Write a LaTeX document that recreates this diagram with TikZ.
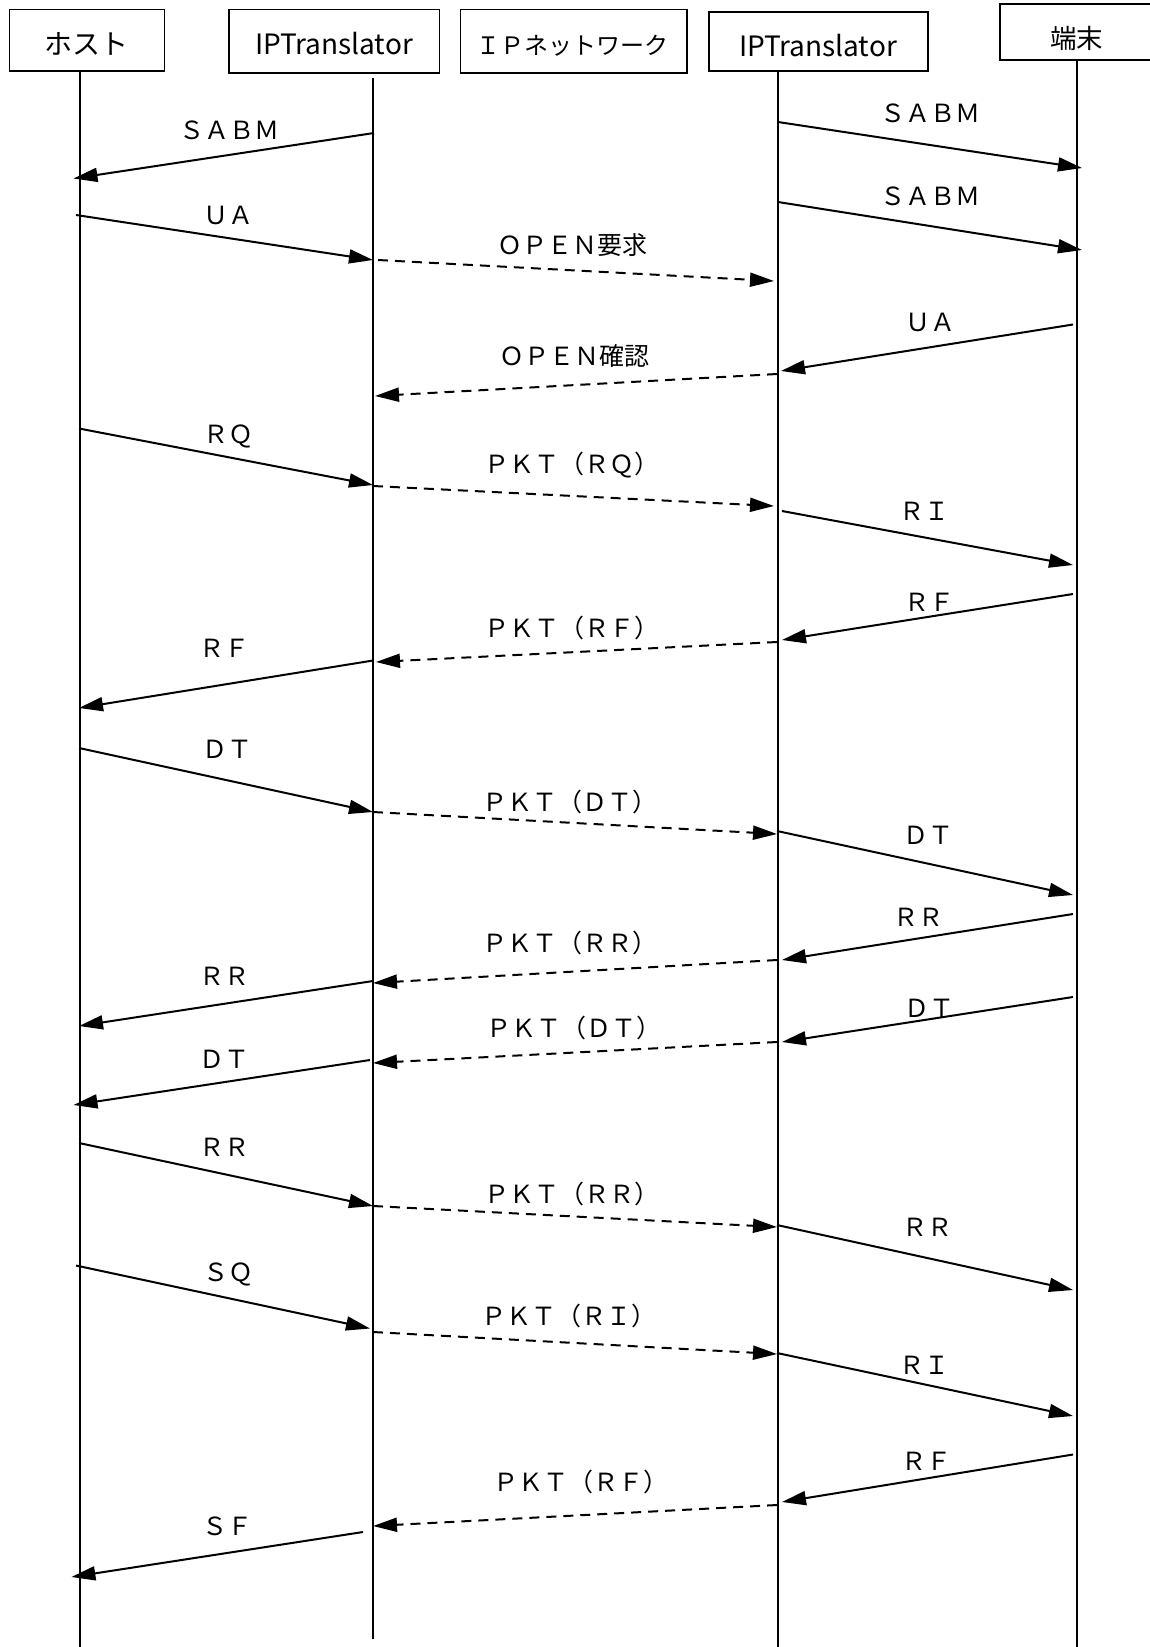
\documentclass[tikz,border=0pt]{standalone}
\usepackage{fontspec}
\setmainfont{Noto Sans CJK JP}
\usetikzlibrary{arrows.meta}
\tikzset{
  box/.style={draw, line width=1.5pt, inner sep=0pt},
  hdr/.style={inner sep=0pt, font=\fontsize{28}{32}\selectfont, text height=20.5pt, text depth=0pt},
  lbl/.style={inner sep=0pt, font=\fontsize{25}{30}\selectfont, text height=18.5pt, text depth=0pt},
  life/.style={line width=1.3pt},
  msg/.style={line width=2pt, -{Triangle[length=24pt,width=14pt]}},
  dmsg/.style={msg, dash pattern=on 10pt off 7pt},
}
\begin{document}
\begin{tikzpicture}[x=1pt,y=-1pt]
\clip (0,0) rectangle (1150,1647);
\fill[white] (0,0) rectangle (1150,1647);
% header boxes
\node[box, minimum width=155pt, minimum height=61.5pt] (hostbox) at (87,40.25) {};
\node[hdr] (hostt) at (86.5,44) {ホスト};
\node[box, minimum width=210.5pt, minimum height=63.5pt] (ipt1box) at (334.25,41.25) {};
\node[hdr] (ipt1t) at (334,44.5) {IPTranslator};
\node[box, minimum width=226.5pt, minimum height=63.5pt] (netbox) at (573.75,41.25) {};
\node[hdr, font=\fontsize{24}{28}\selectfont, text height=17.5pt] (nett) at (572.5,45.5) {ＩＰネットワーク};
\node[box, minimum width=219pt, minimum height=59pt] (ipt2box) at (818.5,41.5) {};
\node[hdr] (ipt2t) at (818,46.5) {IPTranslator};
\node[box, minimum width=154pt, minimum height=56pt] (termbox) at (1077,32) {};
\node[hdr, font=\fontsize{26.5}{30}\selectfont] (termt) at (1076.5,38.5) {端末};
% lifelines
\coordinate (hTop) at (80,71); \coordinate (hBot) at (80,1647);
\coordinate (aTop) at (373,78); \coordinate (aBot) at (373,1639);
\coordinate (bTop) at (778,71); \coordinate (bBot) at (778,1647);
\coordinate (tTop) at (1077,60); \coordinate (tBot) at (1077,1647);
\draw[life] (hTop) -- (hBot);
\draw[life] (aTop) -- (aBot);
\draw[life] (bTop) -- (bBot);
\draw[life] (tTop) -- (tBot);
% messages
\coordinate (m1a) at (374,133); \coordinate (m1b) at (73.5,178.5); \draw[msg] (m1a) -- (m1b); \node[lbl] (l1) at (229,130) {ＳＡＢＭ};
\coordinate (m2a) at (778,122); \coordinate (m2b) at (1082,168); \draw[msg] (m2a) -- (m2b); \node[lbl] (l2) at (930,113) {ＳＡＢＭ};
\coordinate (m3a) at (778,202); \coordinate (m3b) at (1082,250); \draw[msg] (m3a) -- (m3b); \node[lbl] (l3) at (930,196) {ＳＡＢＭ};
\coordinate (m4a) at (76,215); \coordinate (m4b) at (373,260); \draw[msg] (m4a) -- (m4b); \node[lbl] (l4) at (228,215) {ＵＡ};
\coordinate (m5a) at (378,260); \coordinate (m5b) at (774,281); \draw[dmsg] (m5a) -- (m5b); \node[lbl] (l5) at (572,245) {ＯＰＥＮ要求};
\coordinate (m6a) at (1073,324.5); \coordinate (m6b) at (781,371); \draw[msg] (m6a) -- (m6b); \node[lbl] (l6) at (930,322) {ＵＡ};
\coordinate (m7a) at (777,374); \coordinate (m7b) at (375,396); \draw[dmsg] (m7a) -- (m7b); \node[lbl] (l7) at (574,356) {ＯＰＥＮ確認};
\coordinate (m8a) at (79,428.5); \coordinate (m8b) at (373,485); \draw[msg] (m8a) -- (m8b); \node[lbl] (l8) at (228,434) {ＲＱ};
\coordinate (m9a) at (373,486); \coordinate (m9b) at (774,506); \draw[dmsg] (m9a) -- (m9b); \node[lbl] (l9) at (572,464) {ＰＫＴ（ＲＱ）};
\coordinate (m10a) at (782,511); \coordinate (m10b) at (1073,565); \draw[msg] (m10a) -- (m10b); \node[lbl] (l10) at (924,511) {ＲＩ};
\coordinate (m11a) at (1073,594); \coordinate (m11b) at (782,640); \draw[msg] (m11a) -- (m11b); \node[lbl] (l11) at (929,602) {ＲＦ};
\coordinate (m12a) at (777,642); \coordinate (m12b) at (376,662); \draw[dmsg] (m12a) -- (m12b); \node[lbl] (l12) at (572,628) {ＰＫＴ（ＲＦ）};
\coordinate (m13a) at (373,660.5); \coordinate (m13b) at (79,708); \draw[msg] (m13a) -- (m13b); \node[lbl] (l13) at (224,648) {ＲＦ};
\coordinate (m14a) at (79,748); \coordinate (m14b) at (373,812); \draw[msg] (m14a) -- (m14b); \node[lbl] (l14) at (227,749) {ＤＴ};
\coordinate (m15a) at (373,812); \coordinate (m15b) at (777,834); \draw[dmsg] (m15a) -- (m15b); \node[lbl] (l15) at (570,802) {ＰＫＴ（ＤＴ）};
\coordinate (m16a) at (777,831); \coordinate (m16b) at (1073,895); \draw[msg] (m16a) -- (m16b); \node[lbl] (l16) at (928,835) {ＤＴ};
\coordinate (m17a) at (1073,914); \coordinate (m17b) at (782,960); \draw[msg] (m17a) -- (m17b); \node[lbl] (l17) at (918,917) {ＲＲ};
\coordinate (m18a) at (777,960); \coordinate (m18b) at (373,983); \draw[dmsg] (m18a) -- (m18b); \node[lbl] (l18) at (570,943) {ＰＫＴ（ＲＲ）};
\coordinate (m19a) at (373,981); \coordinate (m19b) at (79,1026); \draw[msg] (m19a) -- (m19b); \node[lbl] (l19) at (224,976) {ＲＲ};
\coordinate (m20a) at (1073,997); \coordinate (m20b) at (782,1042); \draw[msg] (m20a) -- (m20b); \node[lbl] (l20) at (929,1008) {ＤＴ};
\coordinate (m21a) at (777,1042); \coordinate (m21b) at (373,1063); \draw[dmsg] (m21a) -- (m21b); \node[lbl] (l21) at (574,1028) {ＰＫＴ（ＤＴ）};
\coordinate (m22a) at (370,1060); \coordinate (m22b) at (73.5,1105); \draw[msg] (m22a) -- (m22b); \node[lbl] (l22) at (224,1059) {ＤＴ};
\coordinate (m23a) at (79,1143); \coordinate (m23b) at (373,1206); \draw[msg] (m23a) -- (m23b); \node[lbl] (l23) at (224,1147) {ＲＲ};
\coordinate (m24a) at (373,1206); \coordinate (m24b) at (777,1227); \draw[dmsg] (m24a) -- (m24b); \node[lbl] (l24) at (572,1194) {ＰＫＴ（ＲＲ）};
\coordinate (m25a) at (777,1225); \coordinate (m25b) at (1073,1290); \draw[msg] (m25a) -- (m25b); \node[lbl] (l25) at (927,1227) {ＲＲ};
\coordinate (m26a) at (76,1265.5); \coordinate (m26b) at (370,1328.5); \draw[msg] (m26a) -- (m26b); \node[lbl] (l26) at (228,1272) {ＳＱ};
\coordinate (m27a) at (373,1332); \coordinate (m27b) at (777,1354); \draw[dmsg] (m27a) -- (m27b); \node[lbl] (l27) at (569,1316) {ＰＫＴ（ＲＩ）};
\coordinate (m28a) at (777,1353); \coordinate (m28b) at (1073,1416); \draw[msg] (m28a) -- (m28b); \node[lbl] (l28) at (924,1365) {ＲＩ};
\coordinate (m29a) at (1073,1454.5); \coordinate (m29b) at (782,1502); \draw[msg] (m29a) -- (m29b); \node[lbl] (l29) at (926,1461) {ＲＦ};
\coordinate (m30a) at (777,1505); \coordinate (m30b) at (373,1526); \draw[dmsg] (m30a) -- (m30b); \node[lbl] (l30) at (581,1482) {ＰＫＴ（ＲＦ）};
\coordinate (m31a) at (363,1532); \coordinate (m31b) at (71.4,1577); \draw[msg] (m31a) -- (m31b); \node[lbl] (l31) at (227,1526) {ＳＦ};
\end{tikzpicture}
\end{document}
